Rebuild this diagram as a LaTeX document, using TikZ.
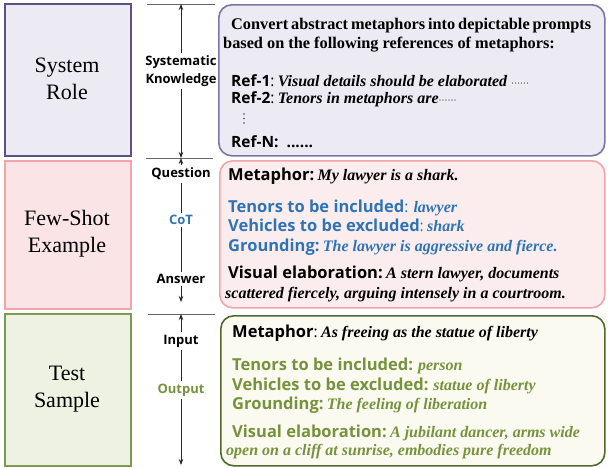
\documentclass[tikz,border=0pt]{standalone}
\usepackage{fontspec}
\setmainfont{Liberation Serif}
\newfontfamily\osans{Open Sans}
\usetikzlibrary{arrows.meta}
\definecolor{purpB}{HTML}{5E5180}
\definecolor{purpR}{HTML}{7F74A0}
\definecolor{lavF}{HTML}{ECEAF3}
\definecolor{pinkB}{HTML}{F2A3AB}
\definecolor{pinkF}{HTML}{FBE4E5}
\definecolor{pinkRF}{HTML}{FBEDED}
\definecolor{grnB}{HTML}{7D9A4E}
\definecolor{grnF}{HTML}{EEF2E2}
\definecolor{grnRB}{HTML}{4F6A2C}
\definecolor{grnRF}{HTML}{FBFAF1}
\definecolor{bluT}{HTML}{2E74B5}
\definecolor{grnT}{HTML}{76923C}
\newcommand{\hsans}{\osans\bfseries\fontsize{16.5}{18}\selectfont}
\newcommand{\rsans}{\osans\bfseries\fontsize{15.5}{17}\selectfont}
\newcommand{\csans}{\osans\mdseries\fontsize{15.5}{17}\selectfont}
\newcommand{\hserif}{\rmfamily\bfseries\itshape\fontsize{16}{18}\selectfont}
\newcommand{\tserif}{\rmfamily\bfseries\fontsize{16.3}{18}\selectfont}
\newcommand{\smdots}{{\mdseries\upshape\fontsize{9}{10}\selectfont\textperiodcentered\textperiodcentered\textperiodcentered\textperiodcentered\textperiodcentered\textperiodcentered}}
\tikzset{
  lbox/.style={draw, line width=2pt, anchor=north west, inner sep=0pt},
  ltxt/.style={font=\rmfamily\fontsize{22}{27}\selectfont, align=center},
  rbox/.style={draw, line width=1.6pt, rounded corners=13pt, anchor=north west, inner sep=0pt},
  txt/.style={anchor=base west, inner sep=0pt},
  axl/.style={font=\osans\bfseries\fontsize{13}{18}\selectfont, inner sep=2.5pt, align=center},
  axar/.style={-{Stealth[length=6pt,width=4.5pt]}, line width=0.8pt, draw=black!85},
  axln/.style={line width=0.8pt, draw=black!85},
  tick/.style={line width=0.8pt, draw=black!60},
  dotm/.style={fill=black!70, draw=none},
}
\begin{document}
\begin{tikzpicture}[x=1pt,y=-1pt]
\useasboundingbox (0,0) rectangle (608,467);
% left boxes
\node[lbox, draw=purpB, fill=lavF, minimum width=126pt, minimum height=152pt] (sr) at (4,3) {};
\node[ltxt] (srt) at (67,79) {System\\Role};
\node[lbox, draw=pinkB, fill=pinkF, minimum width=126pt, minimum height=148pt] (fs) at (4,160) {};
\node[ltxt] (fst) at (67,234) {Few-Shot\\Example};
\node[lbox, draw=grnB, fill=grnF, minimum width=126pt, minimum height=152pt] (ts) at (4,313) {};
\node[ltxt] (tst) at (67,389) {Test\\Sample};
% axis
\coordinate (t1) at (181,4); \coordinate (t1l) at (147,4); \coordinate (t1r) at (215,4);
\coordinate (t2) at (181,158); \coordinate (t2l) at (146,158); \coordinate (t2r) at (213,158);
\coordinate (t3) at (181,314); \coordinate (t3l) at (148,314); \coordinate (t3r) at (215,314);
\coordinate (e2) at (181,302); \coordinate (e3) at (181,465);
\draw[tick] (t1l) -- (t1r);
\draw[tick] (t2l) -- (t2r);
\draw[tick] (t3l) -- (t3r);
\node[axl] (sk) at (181,71) {Systematic\\Knowledge};
\draw[axar] (sk) -- (t1);
\draw[axar] (sk) -- (t2);
\node[axl] (q) at (181,174) {Question};
\node[axl, text=bluT] (cot) at (181,220) {CoT};
\node[axl] (ans) at (181,279) {Answer};
\draw[axar] (q) -- (t2);
\draw[axln] (q) -- (cot);
\draw[axln] (cot) -- (ans);
\draw[axar] (ans) -- (e2);
\node[axl] (inp) at (181,341) {Input};
\node[axl, text=grnT] (out) at (181,390) {Output};
\draw[axar] (inp) -- (t3);
\draw[axln] (inp) -- (out);
\draw[axar] (out) -- (e3);
% right boxes
\node[rbox, draw=purpR, fill=lavF, minimum width=386pt, minimum height=151pt] (b1) at (218,4) {};
\node[rbox, draw=pinkB, fill=pinkRF, minimum width=385pt, minimum height=147pt] (b2) at (219,160) {};
\node[rbox, draw=grnRB, fill=grnRF, minimum width=384pt, minimum height=150pt] (b3) at (220,315) {};
% box 1 text
\node[txt] (c1) at (231,29) {\tserif\makebox[360pt][s]{Convert abstract metaphors into depictable prompts}};
\node[txt] (c2) at (223,48) {\tserif based on the following references of metaphors:};
\node[txt] (r1) at (231,86) {{\rsans Ref-1}{\csans:} \hserif Visual details should be elaborated \smdots};
\node[txt] (r2) at (231,103) {{\rsans Ref-2}{\csans:} \hserif Tenors in metaphors are\smdots};
\fill[dotm] (244,114) circle (0.8pt) (244,118.5) circle (0.8pt) (244,123) circle (0.8pt);
\node[txt] (rn) at (231,147) {\rsans Ref-N:\ \ ......};
% box 2 text
\node[txt] (m2) at (228,180) {{\hsans Metaphor:} \hserif My lawyer is a shark.};
\node[txt, text=bluT] (tn2) at (228,212) {{\hsans Tenors to be included}{\csans:}\ \ \hserif lawyer};
\node[txt, text=bluT] (vh2) at (228,231) {{\hsans Vehicles to be excluded}{\csans:} \hserif shark};
\node[txt, text=bluT] (gr2) at (228,251) {{\hsans Grounding:} \hserif The lawyer is aggressive and fierce.};
\node[txt] (ve2) at (228,278) {{\hsans Visual elaboration:} \hserif A stern lawyer, documents};
\node[txt] (ve2b) at (225,298) {\hserif scattered fiercely, arguing intensely in a courtroom.};
% box 3 text
\node[txt] (m3) at (232,337) {{\hsans Metaphor}{\csans:} \hserif As freeing as the statue of liberty};
\node[txt, text=grnT] (tn3) at (232,370) {{\hsans Tenors to be included:}\ \ \hserif person};
\node[txt, text=grnT] (vh3) at (232,390) {{\hsans Vehicles to be excluded:}\ \ \hserif statue of liberty};
\node[txt, text=grnT] (gr3) at (232,409) {{\hsans Grounding:} \hserif The feeling of liberation};
\node[txt, text=grnT] (ve3) at (232,437) {{\hsans Visual elaboration:} \hserif A jubilant dancer, arms wide};
\node[txt, text=grnT] (ve3b) at (226,455) {\hserif open on a cliff at sunrise, embodies pure freedom};
\end{tikzpicture}
\end{document}
